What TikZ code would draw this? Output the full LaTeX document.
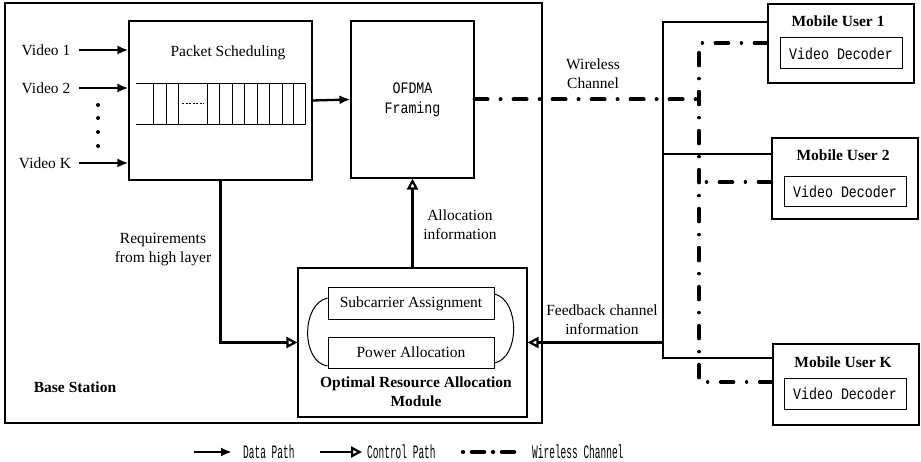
\documentclass[tikz,border=0pt]{standalone}
\usepackage{fontspec}
\setmainfont{Liberation Serif}
\newfontfamily\decfont[FakeStretch=0.83]{Liberation Mono}
\newfontfamily\legfont[FakeStretch=0.5]{Liberation Mono}
\usetikzlibrary{arrows.meta, calc, positioning}

\begin{document}
\begin{tikzpicture}[x=1pt, y=-1pt,
    box/.style={draw, line width=1.1pt, inner sep=0pt},
    txt/.style={inner sep=0pt, align=center, font=\fontsize{15.5}{19}\selectfont},
    btxt/.style={inner sep=0pt, align=center, font=\fontsize{15.5}{19}\selectfont\bfseries},
    mono/.style={inner sep=0pt, align=center, font=\fontsize{16}{20}\selectfont\decfont},
    legtxt/.style={inner sep=0pt, anchor=west, font=\fontsize{19}{22}\selectfont\legfont},
    data/.style={line width=2.3pt, -{Latex[length=11pt, width=9pt]}},
    ctrl/.style={line width=2.3pt, -{Triangle[open, length=11pt, width=11pt, line width=2.2pt]}},
    wireless/.style={line width=4pt, line cap=round, dash pattern=on 13pt off 13pt on 0.01pt off 13pt},
    bus/.style={line width=2.2pt}]
    \useasboundingbox (0,0) rectangle (921,462);

    % Base station
    \node[box, line width=1.3pt, minimum width=537pt, minimum height=420pt] (bs) at (273.5,213) {};
    \node[btxt] (bslabel) at (75,387) {Base Station};

    % Packet scheduling
    \node[box, minimum width=183pt, minimum height=159pt] (sched) at (220.5,100.5) {};
    \node[txt] (schedlabel) at (228,53) {Packet Scheduling};
    \draw[line width=0.9pt] (136,83) -- (305,83) -- (305,124) -- (136,124);
    \foreach \qx in {153,166,178,207,219,232,244,257,269,282,293}
        \draw[line width=0.9pt] (\qx,83) -- (\qx,124);
    \draw[dashed, line width=0.8pt, dash pattern=on 2pt off 1.5pt] (182,103) -- (204,103);

    % Video inputs
    \node[txt] (v1) at (46,50) {Video 1};
    \node[txt] (v2) at (46,88) {Video 2};
    \node[txt] (vK) at (45,163) {Video K};
    \draw[data] ([xshift=9pt]v1.east) -- (v1.east -| sched.west);
    \draw[data] ([xshift=9pt]v2.east) -- (v2.east -| sched.west);
    \draw[data] ([xshift=8pt]vK.east) -- (vK.east -| sched.west);
    \foreach \dy in {105,118,132,146}
        \fill (98,\dy) circle (2pt);

    % OFDMA framing
    \node[box, mono, minimum width=123pt, minimum height=157pt] (ofdma) at (412.5,99.5) {OFDMA\\Framing};
    \draw[data] (sched.east) -- (ofdma.west);

    % Resource allocation module
    \node[box, minimum width=229pt, minimum height=149pt] (module) at (412.5,342.5) {};
    \node[box, txt, draw, line width=1pt, minimum width=166pt, minimum height=32pt] (subc) at (411,304) {Subcarrier Assignment};
    \node[box, txt, draw, line width=1pt, minimum width=166pt, minimum height=31pt] (power) at (411,352.5) {Power Allocation};
    \draw[line width=1pt] (subc.west |- 0,298) .. controls (301,304) and (301,362) .. (power.west |- 0,366);
    \draw[line width=1pt] (subc.east |- 0,294) .. controls (520,300) and (520,358) .. (power.east |- 0,363);
    \node[btxt] (modlabel) at (416,391.5) {Optimal Resource Allocation\\Module};

    % Control paths
    \draw[ctrl] (module.north) -- (ofdma.south);
    \node[txt] (alloclabel) at (460,225) {Allocation\\information};
    \draw[ctrl] (sched.south) |- (module.west);
    \node[txt] (reqlabel) at (163,250) {Requirements\\from high layer};
    \coordinate (fb) at (663,342.5);
    \draw[ctrl] (fb) -- (module.east);
    \node[txt] (fblabel) at (602,320) {Feedback channel\\information};

    % Mobile users
    \node[box, minimum width=146pt, minimum height=79pt] (u1) at (841,43.5) {};
    \node[btxt] (u1label) at (838,21) {Mobile User 1};
    \node[box, mono, line width=1pt, minimum width=122pt, minimum height=31pt] (d1) at (841,53.5) {Video Decoder};
    \node[box, minimum width=146pt, minimum height=81pt] (u2) at (845,178.5) {};
    \node[btxt] (u2label) at (843,155) {Mobile User 2};
    \node[box, mono, line width=1pt, minimum width=122pt, minimum height=30pt] (d2) at (845,192) {Video Decoder};
    \node[box, minimum width=146pt, minimum height=81pt] (uK) at (846,384.5) {};
    \node[btxt] (uKlabel) at (843,362) {Mobile User K};
    \node[box, mono, line width=1pt, minimum width=122pt, minimum height=31pt] (dK) at (845,393.5) {Video Decoder};

    % Feedback bus
    \coordinate (b1) at (663,22);
    \coordinate (b2) at (663,154);
    \coordinate (bK) at (663,358);
    \draw[bus] (b1 -| u1.west) -- (b1) -- (bK) -- (bK -| uK.west);
    \draw[bus] (b2) -- (b2 -| u2.west);

    % Wireless channel
    \coordinate (w1) at (699,43);
    \coordinate (w2) at (699,182);
    \coordinate (wK) at (699,382);
    \draw[wireless] (ofdma.east) -- (ofdma.east -| w1);
    \draw[wireless, line width=3.5pt] (w1 -| u1.west) -- (w1) -- (wK) -- (wK -| uK.west);
    \draw[wireless, line width=3.5pt] (w2 -| u2.west) -- (w2);
    \node[txt] (wlabel) at (593,74) {Wireless\\Channel};

    % Legend
    \coordinate (la1) at (194,452);
    \coordinate (la2) at (232,452);
    \draw[data] (la1) -- (la2);
    \node[legtxt] (latxt) at (243,452) {Data Path};
    \coordinate (lc1) at (320,452);
    \coordinate (lc2) at (362,452);
    \draw[ctrl] (lc1) -- (lc2);
    \node[legtxt] (lctxt) at (367,452) {Control Path};
    \coordinate (lw1) at (463,452);
    \coordinate (lw2) at (514,452);
    \draw[line width=4.5pt, line cap=round, dash pattern=on 0.01pt off 9pt on 12pt off 9pt] (lw1) -- (lw2);
    \node[legtxt] (lwtxt) at (532,452) {Wireless Channel};
\end{tikzpicture}
\end{document}
